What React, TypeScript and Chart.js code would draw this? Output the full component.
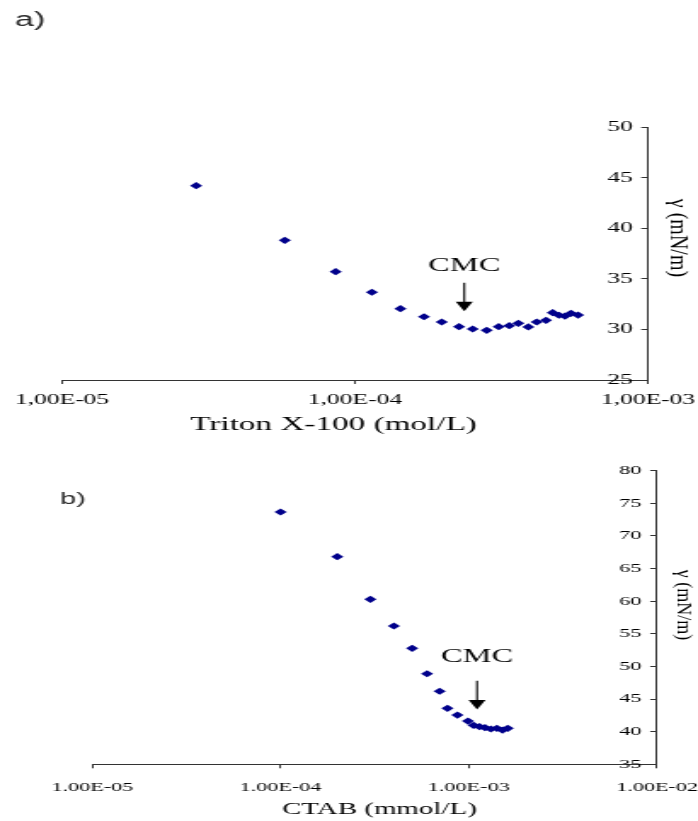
import React, { useEffect, useRef } from 'react';
import { Chart, registerables } from 'chart.js';

Chart.register(...registerables);

// ---------- data: panel a (Triton X-100) ----------
const concA = [
  2.87e-5, 5.76e-5, 8.59e-5, 1.142e-4, 1.429e-4, 1.72e-4, 1.977e-4, 2.265e-4,
  2.522e-4, 2.815e-4, 3.093e-4, 3.362e-4, 3.609e-4, 3.904e-4, 4.17e-4, 4.486e-4,
  4.728e-4, 4.968e-4, 5.208e-4, 5.46e-4, 5.77e-4,
];
const gammaA = [
  44.2, 38.8, 35.7, 33.67, 32.05, 31.25, 30.73, 30.27,
  30.04, 29.91, 30.27, 30.37, 30.6, 30.24, 30.73, 30.9,
  31.65, 31.4, 31.32, 31.59, 31.42,
];
const xTicksA = [1e-5, 1e-4, 1e-3];
const xTickLabelsA = ['1,00E-05', '1,00E-04', '1,00E-03'];
const yRangeA = [25, 50];

// ---------- data: panel b (CTAB) ----------
const concB = [
  1.0e-4, 2.0e-4, 3.0e-4, 4.0e-4, 5.0e-4, 6.0e-4, 7.0e-4, 7.7e-4, 8.7e-4,
  9.9e-4, 1.06e-3, 1.14e-3, 1.22e-3, 1.31e-3, 1.41e-3, 1.51e-3, 1.61e-3,
];
const gammaB = [
  73.67, 66.82, 60.29, 56.2, 52.78, 48.88, 46.2, 43.58, 42.55,
  41.63, 40.97, 40.76, 40.61, 40.41, 40.52, 40.25, 40.52,
];
const xTicksB = [1e-5, 1e-4, 1e-3, 1e-2];
const xTickLabelsB = ['1.00E-05', '1.00E-04', '1.00E-03', '1.00E-02'];
const yRangeB = [35, 80];

// CMC annotations (data units)
const cmcA = { x: 2.36e-4, text: 36.3, top: 34.6, tip: 31.8 };
const cmcB = { x: 1.106e-3, text: 51.5, top: 47.8, tip: 43.4 };

// logical canvas width, CSS-stretched to 698px
const LW = 410;
const S = 698 / LW;

const SERIF = '"Liberation Serif", "Times New Roman", serif';
const SANS = '"Liberation Sans", Arial, sans-serif';

type Panel = {
  xs: number[];
  ys: number[];
  xTicks: number[];
  xLabels: string[];
  yRange: number[];
  height: number;
  area: { left: number; right: number; top: number; bottom: number };
  tickFont: number;
  xTickPad: number;
  yTickPad: number;
  letter: string;
  letterFont: number;
  letterPos: [number, number];
  cmc: { x: number; text: number; top: number; tip: number };
  cmcFont: number;
  xTitle: string;
  xTitleFont: number;
  xTitlePos: [number, number];
  yTitle: string;
  yTitleFont: number;
  yTitlePos: [number, number];
};

function makeConfig(p: Panel): any {
  const annot = {
    id: 'annot',
    afterDraw(chart: any) {
      const ctx = chart.ctx as CanvasRenderingContext2D;
      const xs = chart.scales.x;
      const ys = chart.scales.y;
      ctx.save();
      // panel letter
      ctx.fillStyle = '#2a2a2a';
      ctx.font = `${p.letterFont}px ${SANS}`;
      ctx.textAlign = 'left';
      ctx.textBaseline = 'alphabetic';
      ctx.fillText(p.letter, p.letterPos[0], p.letterPos[1]);
      // CMC label + arrow
      const cx = xs.getPixelForValue(p.cmc.x);
      ctx.fillStyle = '#000';
      ctx.font = `${p.cmcFont}px ${SERIF}`;
      ctx.textAlign = 'center';
      ctx.textBaseline = 'middle';
      ctx.fillText('CMC', cx, ys.getPixelForValue(p.cmc.text));
      const yTop = ys.getPixelForValue(p.cmc.top);
      const yTip = ys.getPixelForValue(p.cmc.tip);
      const headH = 9.5;
      const headW = 5;
      ctx.strokeStyle = '#000';
      ctx.lineWidth = 1.1;
      ctx.beginPath();
      ctx.moveTo(cx, yTop);
      ctx.lineTo(cx, yTip - headH + 1);
      ctx.stroke();
      ctx.fillStyle = '#000';
      ctx.beginPath();
      ctx.moveTo(cx - headW, yTip - headH);
      ctx.lineTo(cx + headW, yTip - headH);
      ctx.lineTo(cx, yTip);
      ctx.closePath();
      ctx.fill();
      // x title
      ctx.fillStyle = '#000';
      ctx.font = `${p.xTitleFont}px ${SERIF}`;
      ctx.textAlign = 'center';
      ctx.textBaseline = 'middle';
      ctx.fillText(p.xTitle, p.xTitlePos[0], p.xTitlePos[1]);
      // y title (rotated, reading downward)
      ctx.save();
      ctx.translate(p.yTitlePos[0], p.yTitlePos[1]);
      ctx.scale(1.25 / S, 1);
      ctx.rotate(Math.PI / 2);
      ctx.font = `${p.yTitleFont}px ${SERIF}`;
      ctx.textAlign = 'center';
      ctx.textBaseline = 'middle';
      ctx.fillText(p.yTitle, 0, 0);
      ctx.restore();
      ctx.restore();
    },
  };

  return {
    type: 'scatter',
    data: {
      datasets: [
        {
          data: p.xs.map((x, i) => ({ x, y: p.ys[i] })),
          pointStyle: 'rectRot',
          pointRadius: 3.6,
          backgroundColor: '#00008B',
          borderColor: '#00008B',
          borderWidth: 0,
          showLine: false,
        },
      ],
    },
    options: {
      responsive: false,
      animation: false,
      devicePixelRatio: 1,
      layout: {
        padding: { left: p.area.left, top: p.area.top, right: 0, bottom: 0 },
      },
      plugins: { legend: { display: false }, tooltip: { enabled: false } },
      scales: {
        x: {
          type: 'logarithmic',
          min: p.xTicks[0],
          max: p.xTicks[p.xTicks.length - 1],
          afterBuildTicks: (s: any) => {
            s.ticks = p.xTicks.map((v) => ({ value: v }));
          },
          afterFit: (s: any) => {
            s.height = p.height - p.area.bottom;
            s.paddingLeft = 0;
            s.paddingRight = 0;
          },
          grid: { drawOnChartArea: false, drawTicks: true, tickLength: 4, color: '#333' },
          border: { display: true, color: '#333', width: 1 },
          ticks: {
            autoSkip: false,
            maxRotation: 0,
            padding: p.xTickPad,
            color: '#000',
            font: { family: SERIF, size: p.tickFont },
            callback: (_v: any, i: number) => p.xLabels[i],
          },
        },
        y: {
          type: 'linear',
          position: 'right',
          min: p.yRange[0],
          max: p.yRange[1],
          afterFit: (s: any) => {
            s.width = LW - p.area.right;
            s.paddingTop = 0;
            s.paddingBottom = 0;
          },
          grid: { drawOnChartArea: false, drawTicks: true, tickLength: -4, color: '#333' },
          border: { display: true, color: '#333', width: 1 },
          ticks: {
            stepSize: 5,
            mirror: true,
            padding: p.yTickPad,
            color: '#000',
            font: { family: SERIF, size: p.tickFont },
          },
        },
      },
    },
    plugins: [annot],
  };
}

const panelA: Panel = {
  xs: concA,
  ys: gammaA,
  xTicks: xTicksA,
  xLabels: xTickLabelsA,
  yRange: yRangeA,
  height: 440,
  area: { left: 62 / S, right: 648 / S, top: 127, bottom: 380 },
  tickFont: 15,
  xTickPad: 7,
  yTickPad: -15 / S,
  letter: 'a)',
  letterFont: 20,
  letterPos: [15 / S, 26],
  cmc: cmcA,
  cmcFont: 19,
  xTitle: 'Triton X-100 (mol/L)',
  xTitleFont: 19.5,
  xTitlePos: [333.5 / S, 425],
  yTitle: 'γ (mN/m)',
  yTitleFont: 20,
  yTitlePos: [677.5 / S, 238],
};

const panelB: Panel = {
  xs: concB,
  ys: gammaB,
  xTicks: xTicksB,
  xLabels: xTickLabelsB,
  yRange: yRangeB,
  height: 381,
  area: { left: 92.4 / S, right: 657 / S, top: 30.7, bottom: 324.3 },
  tickFont: 13,
  xTickPad: 11,
  yTickPad: -15.5 / S,
  letter: 'b)',
  letterFont: 17,
  letterPos: [60 / S, 64],
  cmc: cmcB,
  cmcFont: 19,
  xTitle: 'CTAB (mmol/L)',
  xTitleFont: 17,
  xTitlePos: [379.5 / S, 370],
  yTitle: 'γ (mN/m)',
  yTitleFont: 18,
  yTitlePos: [683 / S, 165],
};

function PanelChart({ panel, top }: { panel: Panel; top: number }) {
  const ref = useRef<HTMLCanvasElement | null>(null);
  useEffect(() => {
    if (!ref.current) return;
    const chart = new Chart(ref.current, makeConfig(panel));
    let alive = true;
    if (document.fonts && document.fonts.load) {
      Promise.all([
        document.fonts.load(`${panel.letterFont}px "Liberation Sans"`),
        document.fonts.load(`${panel.tickFont}px "Liberation Serif"`),
      ])
        .then(() => {
          if (alive) chart.update();
        })
        .catch(() => {});
    }
    return () => {
      alive = false;
      chart.destroy();
    };
  }, [panel]);
  return (
    <canvas
      ref={ref}
      width={LW}
      height={panel.height}
      style={{
        position: 'absolute',
        left: 0,
        top,
        width: '698px',
        height: `${panel.height}px`,
        display: 'block',
      }}
    />
  );
}

export default function App() {
  return (
    <div
      style={{
        position: 'absolute',
        left: 0,
        top: 0,
        width: 698,
        height: 821,
        background: '#fff',
        overflow: 'hidden',
      }}
    >
      <PanelChart panel={panelA} top={0} />
      <PanelChart panel={panelB} top={440} />
    </div>
  );
}
